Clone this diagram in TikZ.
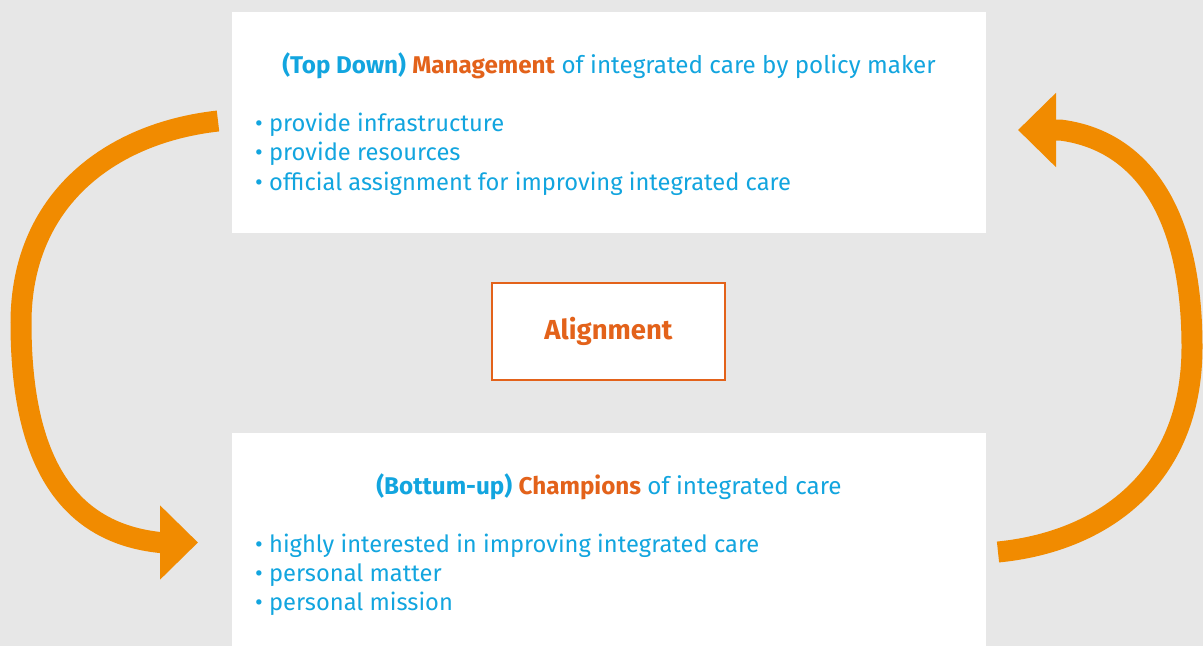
\documentclass[tikz,border=0pt]{standalone}
\usepackage{fontspec}
\setmainfont{Fira Sans}
\usetikzlibrary{arrows.meta,calc}
\definecolor{bg}{HTML}{E7E7E7}
\definecolor{txtblue}{HTML}{12A5DF}
\definecolor{txtorange}{HTML}{E3621A}
\definecolor{arrorange}{HTML}{F18B00}
\tikzset{
  panel/.style={fill=white,draw=none,inner sep=0pt,outer sep=0pt},
  alignbox/.style={fill=white,draw=txtorange,line width=2pt,inner sep=0pt,outer sep=0pt,
    minimum width=233pt,minimum height=97pt,font=\fontsize{27.5}{31}\selectfont\bfseries,text=txtorange},
  heading/.style={anchor=base,inner sep=0pt,font=\fontsize{24.2}{28}\selectfont,text=txtblue},
  bullet/.style={anchor=base west,inner sep=0pt,font=\fontsize{23.7}{28}\selectfont,text=txtblue},
  bigarrow/.style={draw=arrorange,line width=21pt,line cap=butt,
    -{Triangle[length=38pt,width=72pt]}}
}
\begin{document}
\begin{tikzpicture}[x=1pt,y=-1pt]
\fill[bg] (0,0) rectangle (1203,646);
\useasboundingbox (0,0) rectangle (1203,646);
\node[panel,minimum width=754pt,minimum height=221pt] (top) at (609,122.5) {};
\node[panel,minimum width=754pt,minimum height=213pt] (bottom) at (609,539.5) {};
\node[alignbox] (align) at (608.5,331.5) {Alignment};
\node[heading] (th) at (609,73) {\textbf{(Top Down)} \textcolor{txtorange}{\textbf{Management}} of integrated care by policy maker};
\node[bullet] (t1) at (255,131) {• provide infrastructure};
\node[bullet] (t2) at (255,160.5) {• provide resources};
\node[bullet] (t3) at (255,190) {• official assignment for improving integrated care};
\node[heading] (bh) at (609,494) {\textbf{(Bottum-up)} \textcolor{txtorange}{\textbf{Champions}} of integrated care};
\node[bullet] (b1) at (255,552) {• highly interested in improving integrated care};
\node[bullet] (b2) at (255,581) {• personal matter};
\node[bullet] (b3) at (255,610) {• personal mission};
\coordinate (lstart) at ($(top.west)+(-14,-1.5)$);
\coordinate (lend) at ($(bottom.west)+(-34,3)$);
\coordinate (rstart) at ($(bottom.east)+(12,12.5)$);
\coordinate (rend) at ($(top.east)+(32,7.5)$);
\draw[bigarrow] (lstart) .. controls (110,133) and (21,200) .. (21,323)
  .. controls (21,465) and (70,533) .. (160,542.5) -- (lend);
\draw[bigarrow] (rstart) .. controls (1100,542) and (1192,480) .. (1192,347)
  .. controls (1192,210) and (1140,140) .. (1060,130) -- (rend);
\end{tikzpicture}
\end{document}
